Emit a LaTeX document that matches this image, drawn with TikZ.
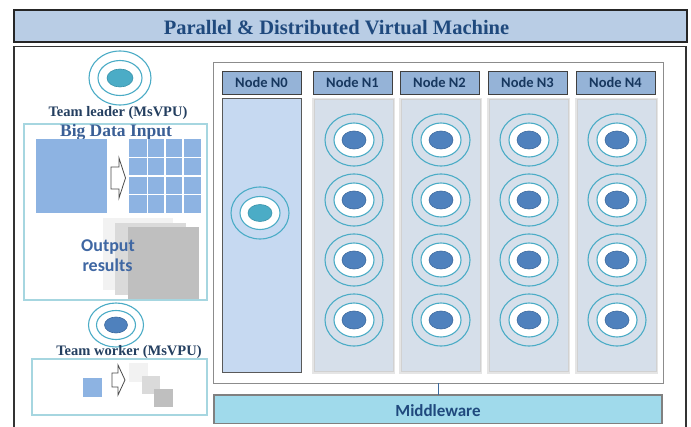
\documentclass[tikz,border=0pt]{standalone}
\usepackage{fontspec}
\setmainfont{Liberation Serif}
\newfontfamily\calibfont{Carlito}
\usetikzlibrary{shapes.geometric}

\definecolor{titlefill}{HTML}{B9CDE5}
\definecolor{titletext}{HTML}{1F497D}
\definecolor{navy}{HTML}{243F60}
\definecolor{midblue}{HTML}{3A5F96}
\definecolor{outtext}{HTML}{3F67A3}
\definecolor{hdrfill}{HTML}{95B3D7}
\definecolor{hdrtext}{HTML}{17375E}
\definecolor{leadcol}{HTML}{C6D9F1}
\definecolor{workcol}{HTML}{D6DFEA}
\definecolor{ringc}{HTML}{4BACC6}
\definecolor{leadc}{HTML}{4BACC6}
\definecolor{leadd}{HTML}{3A93AA}
\definecolor{workc}{HTML}{4F81BD}
\definecolor{workd}{HTML}{3C6A9E}
\definecolor{datac}{HTML}{8DB3E2}
\definecolor{mwfill}{HTML}{A0DAEB}
\definecolor{framec}{HTML}{A6D6E0}
\definecolor{grayA}{HTML}{F2F2F2}
\definecolor{grayB}{HTML}{DADADA}
\definecolor{grayC}{HTML}{BFBFBF}

\tikzset{
  box/.style={rectangle, anchor=north west, inner sep=0pt, outer sep=0pt},
  ring/.style={draw=ringc, line width=1.1pt},
  panel/.style={box, draw=framec, line width=1.1pt},
  header/.style={box, fill=hdrfill, draw=black!75, line width=1pt,
    minimum width=79, minimum height=23},
  hdrlabel/.style={anchor=base, text=hdrtext, font=\calibfont\bfseries\fontsize{14.5}{16}\selectfont},
  blockarrow/.style={fill=white, draw=black!70, line width=0.8pt, line join=miter},
  serifbold/.style={anchor=base, font=\bfseries\fontsize{14.5}{17}\selectfont, text=navy},
  pics/workeru/.style={code={
    \draw[ring] (0,0) ellipse [x radius=29, y radius=26];
    \draw[ring, fill=white] (0,0) ellipse [x radius=20, y radius=17];
    \fill[workc, draw=workd, line width=0.6pt] (0,0) ellipse [x radius=12, y radius=9];
  }},
  pics/leaderu/.style={code={
    \draw[ring] (0,0) ellipse [x radius=29, y radius=26];
    \draw[ring, fill=white] (0,0) ellipse [x radius=20, y radius=16.5];
    \fill[leadc, draw=leadd, line width=0.6pt] (0,0) ellipse [x radius=12, y radius=8.5];
  }}
}

\begin{document}
\begin{tikzpicture}[x=1pt, y=-1pt]
\useasboundingbox (0,0) rectangle (691,426);
\clip (0,0) rectangle (691,426);
\fill[white] (0,0) rectangle (691,426);

% title bar
\node[box, fill=titlefill, draw=black!85, line width=1.6pt,
      minimum width=673, minimum height=32] (bar) at (14,10) {};
\node[anchor=base, text=titletext, font=\bfseries\fontsize{20.5}{24}\selectfont]
  (title) at (336.5,34.3) {Parallel \& Distributed Virtual Machine};

% outer frame
\node[box, draw=black!80, line width=1.5pt, minimum width=672, minimum height=400]
  (frame) at (14,46.5) {};

% ---------- team leader ----------
\draw[ring] (120,78) ellipse [x radius=31, y radius=27];
\draw[ring] (120,78) ellipse [x radius=22, y radius=17.5];
\fill[leadc, draw=leadd, line width=0.6pt] (120,78) ellipse [x radius=13, y radius=9];
\node[serifbold] (leader) at (118,116) {Team leader (MsVPU)};

\node[panel, minimum width=183, minimum height=176] (input) at (24,124) {};
\node[anchor=base, text=midblue, font=\bfseries\fontsize{17.5}{20}\selectfont]
  (bdi) at (116,136.7) {Big Data Input};

% whole data set
\node[box, fill=datac, minimum width=71, minimum height=74] (whole) at (36,139) {};
% split arrow
\draw[blockarrow] (111,167) -- (119,167) -- (119,158) -- (125.5,178) -- (119,198)
  -- (119,189) -- (111,189) -- cycle;
% partitioned data set
\node[box, fill=datac, minimum width=72, minimum height=74] (grid) at (129,139) {};
\foreach \gx in {147.5,165,183}
  \draw[white, line width=1.4pt] (\gx,139) -- (\gx,213);
\foreach \gy in {157.5,176,194.5}
  \draw[white, line width=1.4pt] (129,\gy) -- (201,\gy);

% result pages
\node[box, fill=grayA, minimum width=70, minimum height=72] (res1) at (103,218) {};
\node[box, fill=grayB, minimum width=71, minimum height=72] (res2) at (115,223) {};
\node[box, fill=grayC, minimum width=71, minimum height=72] (res3) at (128,227) {};
\node[anchor=base, text=outtext, font=\calibfont\bfseries\fontsize{18}{20}\selectfont]
  (out1) at (108,251.7) {Output};
\node[anchor=base, text=outtext, font=\calibfont\bfseries\fontsize{18}{20}\selectfont]
  (out2) at (107.5,271.7) {results};

% ---------- team worker ----------
\draw[ring] (116,325) ellipse [x radius=27.5, y radius=22];
\draw[ring] (116,325) ellipse [x radius=19.5, y radius=14.5];
\fill[workc, draw=workd, line width=0.6pt] (116,325) ellipse [x radius=11.5, y radius=8];
\node[serifbold] (worker) at (129,355.7) {Team worker (MsVPU)};

\node[panel, minimum width=175, minimum height=56] (task) at (32,359) {};
\node[box, fill=datac, minimum width=19, minimum height=19] (piece) at (83,378) {};
\draw[blockarrow] (112,373) -- (118,373) -- (118,365) -- (125,380) -- (118,395)
  -- (118,387) -- (112,387) -- cycle;
\node[box, fill=grayA, minimum width=19, minimum height=19] (sub1) at (129,363) {};
\node[box, fill=grayB, minimum width=18, minimum height=18] (sub2) at (142,376) {};
\node[box, fill=grayC, minimum width=19, minimum height=18] (sub3) at (154,389) {};

% ---------- virtual machine nodes ----------
\node[box, fill=white, draw=black!45, line width=1pt, minimum width=450, minimum height=321]
  (vm) at (213,62) {};

% leader node N0
\node[header] (h0) at (222,71) {};
\node[hdrlabel] at (261.5,87.3) {Node N0};
\node[box, fill=leadcol, draw=black!65, line width=0.9pt, minimum width=79, minimum height=274]
  (c0) at (222,98) {};
\pic at (260,213) {leaderu};

% worker nodes N1..N4
\foreach \name/\lx/\lab in {1/313/N1, 2/400/N2, 3/488/N3, 4/576/N4}{
  \node[header] (h\name) at (\lx,71) {};
  \node[hdrlabel] at (\lx+39.5,87.3) {Node \lab};
  \fill[black!10] (\lx-1,97.5) rectangle (\lx+82,374);
  \node[box, fill=workcol, draw=black!18, line width=0.8pt, minimum width=79, minimum height=272]
    (c\name) at (\lx+1,99) {};
  \foreach \py in {140,200,260,320}
    \pic at (\lx+41,\py) {workeru};
}

% middleware layer
\node[box, fill=mwfill, draw=black!50, line width=1.2pt, minimum width=448, minimum height=28.5]
  (mw) at (214,395) {};
\node[anchor=base, text=titletext, font=\calibfont\bfseries\fontsize{17}{20}\selectfont]
  (mwlabel) at (438,416.8) {Middleware};
\draw[draw=workd, line width=1pt] (vm.south) -- (mw.north);
\end{tikzpicture}
\end{document}
